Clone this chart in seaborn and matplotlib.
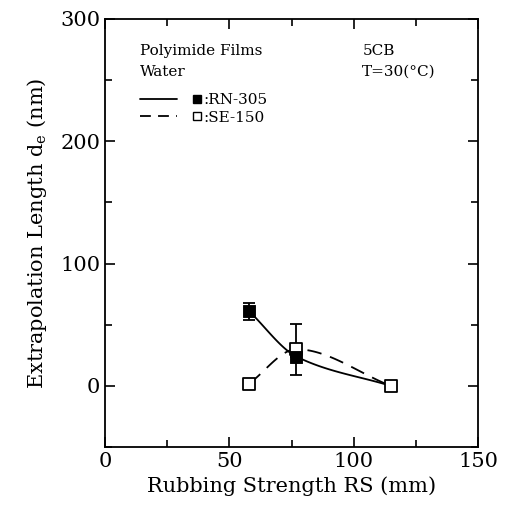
import numpy as np
import pandas as pd
import matplotlib
matplotlib.use("Agg")
import matplotlib.pyplot as plt
import seaborn as sns
from matplotlib.lines import Line2D
from matplotlib.legend_handler import HandlerTuple
from matplotlib.ticker import MultipleLocator

# ---- data ----
rn_x = [58, 77, 115]
rn_y = [61, 24, 0]
rn_err = [7, 0, 0]
se_x = [58, 77, 115]
se_y = [2, 30, 0]
se_err = [0, 21, 0]
series_names = [":RN-305", ":SE-150"]
x_ticks = [0, 50, 100, 150]
y_ticks = [0, 100, 200, 300]

sns.set_theme(style="ticks")
plt.rcParams['font.family'] = ['DejaVu Serif']
plt.rcParams['mathtext.fontset'] = 'dejavuserif'
plt.rcParams['text.color'] = 'black'
plt.rcParams['axes.labelcolor'] = 'black'

fig = plt.figure(figsize=(5.05, 5.11), dpi=100)
ax = fig.add_axes([0.208, 0.125, 0.7385, 0.838])


def pchip(xs, ys, n=60):
    """Monotone cubic Hermite (Fritsch-Carlson) curve through the data points."""
    xs = np.asarray(xs, float); ys = np.asarray(ys, float)
    h = np.diff(xs); d = np.diff(ys) / h
    m = np.zeros_like(ys)
    for k in range(1, len(xs) - 1):
        if d[k - 1] * d[k] > 0:
            w1 = 2 * h[k] + h[k - 1]; w2 = h[k] + 2 * h[k - 1]
            m[k] = (w1 + w2) / (w1 / d[k - 1] + w2 / d[k])
    m[0] = d[0]; m[-1] = d[-1]
    gx, gy = [], []
    for k in range(len(xs) - 1):
        t = np.linspace(0, 1, n)
        h00 = 2 * t**3 - 3 * t**2 + 1; h10 = t**3 - 2 * t**2 + t
        h01 = -2 * t**3 + 3 * t**2; h11 = t**3 - t**2
        gx.append(xs[k] + t * h[k])
        gy.append(h00 * ys[k] + h10 * h[k] * m[k] + h01 * ys[k + 1] + h11 * h[k] * m[k + 1])
    return np.concatenate(gx), np.concatenate(gy)


gx, gy = pchip(rn_x, rn_y)
sns.lineplot(x=gx, y=gy, ax=ax, color="black", lw=1.3, linestyle="-", sort=False)
gx2, gy2 = pchip(se_x, se_y)
sns.lineplot(x=gx2, y=gy2, ax=ax, color="black", lw=1.3, linestyle=(0, (8, 5)), sort=False)

ax.errorbar(rn_x, rn_y, yerr=rn_err, fmt="none", ecolor="black", elinewidth=1.3, capsize=4, capthick=1.3)
ax.errorbar(se_x, se_y, yerr=se_err, fmt="none", ecolor="black", elinewidth=1.3, capsize=4, capthick=1.3)
sns.scatterplot(x=se_x, y=se_y, ax=ax, marker="s", s=65, facecolor="white", edgecolor="black", linewidth=1.3, zorder=5)
sns.scatterplot(x=rn_x[:2], y=rn_y[:2], ax=ax, marker="s", s=65, color="black", edgecolor="black", zorder=6)

ax.set_xlim(0, 150)
ax.set_ylim(-50, 300)
ax.set_xticks(x_ticks)
ax.set_yticks(y_ticks)
ax.xaxis.set_minor_locator(MultipleLocator(25))
ax.yaxis.set_minor_locator(MultipleLocator(50))
ax.tick_params(which="both", direction="in", top=True, right=True, width=1.2, colors="black", labelsize=15)
ax.tick_params(which="major", length=7)
ax.tick_params(which="minor", length=5)
for s in ax.spines.values():
    s.set_linewidth(1.3)
    s.set_color("black")

ax.set_xlabel("Rubbing Strength RS (mm)", fontsize=15, labelpad=4, color="black")
ax.set_ylabel(r"Extrapolation Length d$_\mathregular{e}$ (nm)", fontsize=15, labelpad=8, color="black")

ax.text(14, 274, "Polyimide Films", fontsize=11, va="center", color="black")
ax.text(14, 256.5, "Water", fontsize=11, va="center", color="black")
ax.text(103.5, 274, "5CB", fontsize=11, va="center", color="black")
ax.text(103.5, 256.5, "T=30(\u00b0C)", fontsize=11, va="center", color="black")

h1 = (Line2D([], [], color="black", lw=1.3, linestyle="-"),
      Line2D([], [], color="black", marker="s", markersize=6, linestyle="none"))
h2 = (Line2D([], [], color="black", lw=1.3, linestyle=(0, (6, 4))),
      Line2D([], [], color="black", marker="s", markersize=6, markerfacecolor="white", linestyle="none"))
leg = ax.legend([h1, h2], series_names, handler_map={tuple: HandlerTuple(ndivide=None, pad=0.1)},
                loc="upper left", bbox_to_anchor=(0.095, 0.826), frameon=False, fontsize=11,
                handlelength=4.93, handletextpad=-0.82, labelspacing=0.22, borderpad=0, borderaxespad=0)
for t in leg.get_texts():
    t.set_color("black")

fig.savefig("out.png", dpi=100)
